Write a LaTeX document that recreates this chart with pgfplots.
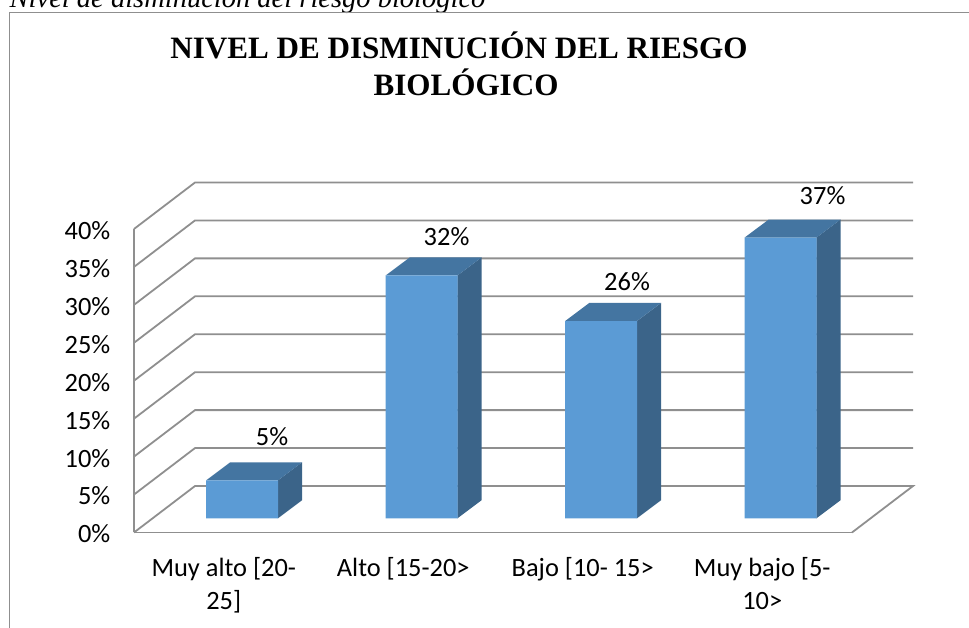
\documentclass[border=0pt]{standalone}
\usepackage{fontspec}
\setmainfont{Carlito}
\newfontfamily\serif{Liberation Serif}
\usepackage{pgfplots}
\pgfplotsset{compat=1.18}
\definecolor{gridgray}{HTML}{8F8F8F}
\definecolor{barfront}{HTML}{5B9BD5}
\definecolor{bartop}{HTML}{4475A1}
\definecolor{barside}{HTML}{3B6489}
\begin{document}
\begin{tikzpicture}[x=1pt,y=1pt]
  \path[use as bounding box,clip] (0,0) rectangle (969,628);
  % caption, cut off by the top of the page
  \node[anchor=base west,inner sep=0pt,font=\serif\itshape\fontsize{28.5}{29}\selectfont]
    at (9.5,620.5) {Nivel de disminución del riesgo biológico};
  % chart frame
  \draw[gridgray,line width=1pt] (9.5,0) -- (9.5,615.5) -- (969,615.5);
  \node[align=center,inner sep=0pt,font=\serif\bfseries\fontsize{31.1}{37}\selectfont]
    at (459,564) {NIVEL DE DISMINUCIÓN DEL RIESGO\\\hspace*{14pt}BIOLÓGICO};

  % walls, floor and axis labels
  \begin{axis}[
    at={(134pt,95.5pt)},anchor=south west,
    scale only axis,width=718pt,height=303.5pt,
    xmin=-0.5,xmax=3.5,ymin=0,ymax=40,
    clip=false,
    axis lines=left,
    axis line style={-,draw=gridgray,line width=1.8pt},
    tick style={draw=none},
    xtick={0,1,2,3},
    xticklabels={{Muy alto [20-\\25]},{Alto [15-20>},{Bajo [10- 15>},{Muy bajo [5-\\10>}},
    xticklabel style={align=center,anchor=north,yshift=-19pt,
      font=\fontsize{26.4}{33}\selectfont},
    ytick={0,5,...,40},
    yticklabel={\pgfmathprintnumber{\tick}\%},
    yticklabel style={anchor=east,xshift=-18pt,yshift=-1.5pt,font=\fontsize{26.4}{29}\selectfont,
      /pgf/number format/assume math mode=true},
    unbounded coords=jump,
  ]
  \addplot[gridgray,line width=1.8pt] coordinates {
    (-0.5,0) (-0.16,6.13) (3.84,6.13) (3.5,0) (nan,nan)
    (-0.5,5) (-0.16,11.13) (3.84,11.13) (nan,nan)
    (-0.5,10) (-0.16,16.13) (3.84,16.13) (nan,nan)
    (-0.5,15) (-0.16,21.13) (3.84,21.13) (nan,nan)
    (-0.5,20) (-0.16,26.13) (3.84,26.13) (nan,nan)
    (-0.5,25) (-0.16,31.13) (3.84,31.13) (nan,nan)
    (-0.5,30) (-0.16,36.13) (3.84,36.13) (nan,nan)
    (-0.5,35) (-0.16,41.13) (3.84,41.13) (nan,nan)
    (-0.5,40) (-0.16,46.13) (3.84,46.13)
  };
  \end{axis}

  % bars stand a little behind the front edge of the floor
  \begin{axis}[
    at={(152.3pt,109.7pt)},anchor=south west,
    scale only axis,width=718pt,height=303.5pt,
    xmin=-0.5,xmax=3.5,ymin=0,ymax=40,
    clip=false,hide axis,
  ]
  % side faces
  \addplot[fill=barside,draw=none] coordinates {(0.2,0) (0.2,5) (0.334,7.375) (0.334,2.375)} -- cycle;
  \addplot[fill=barside,draw=none] coordinates {(1.2,0) (1.2,32) (1.334,34.375) (1.334,2.375)} -- cycle;
  \addplot[fill=barside,draw=none] coordinates {(2.2,0) (2.2,26) (2.334,28.375) (2.334,2.375)} -- cycle;
  \addplot[fill=barside,draw=none] coordinates {(3.2,0) (3.2,37) (3.334,39.375) (3.334,2.375)} -- cycle;
  % top faces
  \addplot[fill=bartop,draw=none] coordinates {(-0.2,5) (0.2,5) (0.334,7.375) (-0.066,7.375)} -- cycle;
  \addplot[fill=bartop,draw=none] coordinates {(0.8,32) (1.2,32) (1.334,34.375) (0.934,34.375)} -- cycle;
  \addplot[fill=bartop,draw=none] coordinates {(1.8,26) (2.2,26) (2.334,28.375) (1.934,28.375)} -- cycle;
  \addplot[fill=bartop,draw=none] coordinates {(2.8,37) (3.2,37) (3.334,39.375) (2.934,39.375)} -- cycle;
  % front faces with the values, dx and dy place each label
  \addplot[ybar,bar width=72pt,fill=barfront,draw=none,
    visualization depends on={\thisrow{dx} \as \labdx},
    visualization depends on={\thisrow{dy} \as \labdy},
    nodes near coords={\pgfmathprintnumber{\pgfplotspointmeta}\%},
    nodes near coords style={anchor=center,xshift=\labdx pt,yshift=\labdy pt,text=black,
      font=\fontsize{26.4}{29}\selectfont,
      /pgf/number format/assume math mode=true},
  ] table[x=x,y=y] {
    x y  dx dy
    0 5  30 44
    1 32 25 39
    2 26 26 39
    3 37 42 42
  };
  \end{axis}
\end{tikzpicture}
\end{document}
